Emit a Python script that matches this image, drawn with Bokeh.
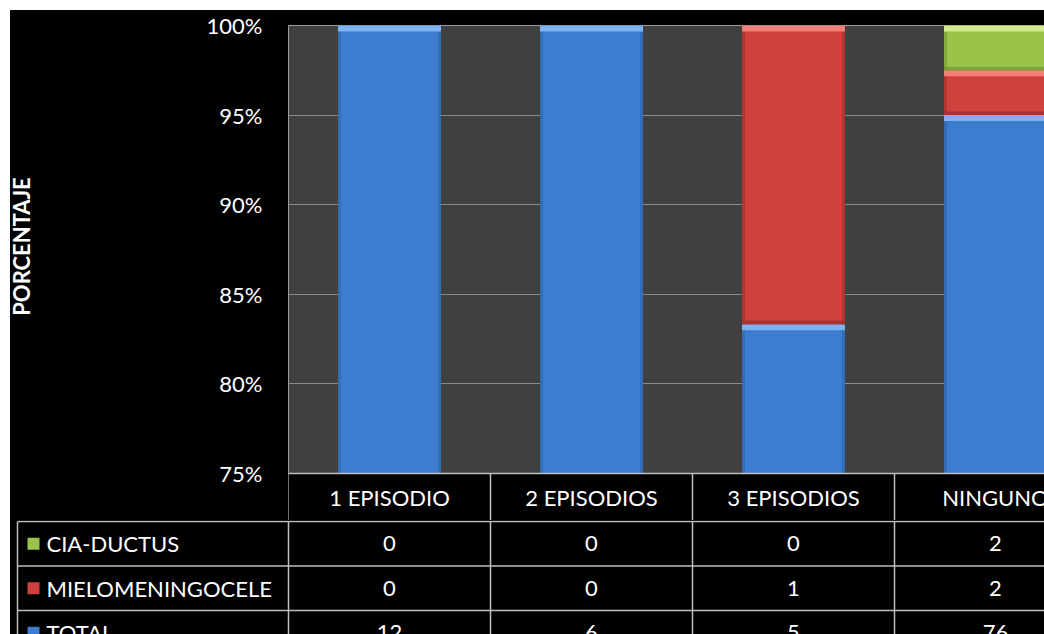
import math
from bokeh.plotting import figure
from bokeh.models import (Range1d, FixedTicker, PrintfTickFormatter, ColumnDataSource,
                          BoxAnnotation, Spacer)
from bokeh.layouts import column, row
from bokeh.core.properties import value
from bokeh.embed import file_html
from bokeh.resources import INLINE

# ---------------- data ----------------
categories = ["1 EPISODIO", "2 EPISODIOS", "3 EPISODIOS", "NINGUNO"]
series_names = ["CIA-DUCTUS", "MIELOMENINGOCELE", "TOTAL"]
cia_ductus = [0, 0, 0, 2]
mielomeningocele = [0, 0, 1, 2]
total = [12, 6, 5, 76]
y_ticks = [75, 80, 85, 90, 95, 100]
grid_ticks = [80, 85, 90, 95]
y_title = "PORCENTAJE"

# ---------------- layout / style constants ----------------
FONT = "Lato"
PAGE_W = 1044
PAD_LEFT = 10
LEFT_W = 190          # page x where the main chart figure starts
TOP_PAD = 10
FIG1_H = 510
FRAME_TOP = 15
FRAME_LEFT = 288      # page x of the plot area
COL_PX = 202.0
PX_PER_UNIT = 448.0 / 25.0
HEADER_PX = 47.0
FIG2_H = 114
ROW_PX = 44.5
BAR_W = 0.51
LINE_COL = "#bfbfbf"
PAGE_FRAME_TOP = TOP_PAD + FRAME_TOP
BLACK = {"background-color": "black"}

colors = {
    "TOTAL": ("#3d7dd0", "#7ab2f2", "#2d62a8"),
    "MIELOMENINGOCELE": ("#d0403c", "#f27e78", "#a32e2b"),
    "CIA-DUCTUS": ("#9ac34a", "#d0ec86", "#789a35"),
}

x_end = (PAGE_W - FRAME_LEFT) / COL_PX
y_start = y_ticks[0] - HEADER_PX / PX_PER_UNIT
shared_y = Range1d(y_start, y_ticks[-1])

# ---------------- left strip with the vertical title ----------------
p0 = figure(width=LEFT_W - PAD_LEFT, height=FIG1_H,
            x_range=Range1d((PAD_LEFT - FRAME_LEFT) / COL_PX, (LEFT_W - FRAME_LEFT) / COL_PX),
            y_range=shared_y, output_backend="svg", toolbar_location=None,
            x_axis_location=None, y_axis_location=None,
            min_border_left=0, min_border_right=0, min_border_top=FRAME_TOP,
            min_border_bottom=0, background_fill_color="black",
            border_fill_color="black", outline_line_color=None, styles=BLACK)
p0.grid.visible = False
p0.text(x=[(20.5 - FRAME_LEFT) / COL_PX],
        y=[y_ticks[-1] - (246 - PAGE_FRAME_TOP) / PX_PER_UNIT],
        text=[y_title], angle=math.pi / 2, text_color="white",
        text_font=value(FONT), text_font_style="bold", text_font_size="22px",
        text_align="center", text_baseline="middle")

# ---------------- main chart ----------------
p1 = figure(width=PAGE_W - LEFT_W, height=FIG1_H, x_range=Range1d(0, x_end),
            y_range=shared_y,
            output_backend="svg", toolbar_location=None, x_axis_location=None,
            min_border_left=FRAME_LEFT - LEFT_W, min_border_right=0,
            min_border_top=FRAME_TOP, min_border_bottom=0,
            background_fill_color="#404040",
            border_fill_color="black", outline_line_color="#9a9a9a", styles=BLACK)

ax = p1.yaxis[0]
ax.ticker = FixedTicker(ticks=y_ticks)
ax.formatter = PrintfTickFormatter(format="%d%%")
ax.axis_line_color = None
ax.major_tick_line_color = None
ax.minor_tick_line_color = None
ax.major_tick_in = 0
ax.major_tick_out = 0
ax.major_label_standoff = 26
ax.major_label_text_font = FONT
ax.major_label_text_font_size = "22px"
ax.major_label_text_color = "white"

p1.xgrid.visible = False
p1.ygrid.ticker = FixedTicker(ticks=grid_ticks)
p1.ygrid.grid_line_color = "#8a8a8a"
p1.ygrid.grid_line_width = 1

# stacked percentages
col_sum = [a + b + c for a, b, c in zip(total, mielomeningocele, cia_ductus)]
stack_order = [("TOTAL", total), ("MIELOMENINGOCELE", mielomeningocele), ("CIA-DUCTUS", cia_ductus)]
bottoms = [0.0] * len(categories)
hl = 6.0 / PX_PER_UNIT
sw = 3.0 / COL_PX
for name, vals in stack_order:
    pct = [100.0 * v / s for v, s in zip(vals, col_sum)]
    tops = [b + q for b, q in zip(bottoms, pct)]
    idx = [i for i, q in enumerate(pct) if q > 0]
    main, light, dark = colors[name]
    src = ColumnDataSource(dict(
        x=[i + 0.5 for i in idx],
        bottom=[bottoms[i] for i in idx],
        top=[tops[i] for i in idx],
        hl_bottom=[tops[i] - hl for i in idx],
        sh_top=[bottoms[i] + hl * 0.6 for i in idx],
        left_x=[i + 0.5 - BAR_W / 2 + sw / 2 for i in idx],
        right_x=[i + 0.5 + BAR_W / 2 - sw / 2 for i in idx],
    ))
    p1.vbar(x="x", width=BAR_W, bottom="bottom", top="top", source=src,
            fill_color=main, line_color=None)
    p1.vbar(x="left_x", width=sw, bottom="bottom", top="top", source=src,
            fill_color=dark, fill_alpha=0.6, line_color=None)
    p1.vbar(x="right_x", width=sw, bottom="bottom", top="top", source=src,
            fill_color=dark, fill_alpha=0.6, line_color=None)
    p1.vbar(x="x", width=BAR_W, bottom="bottom", top="sh_top", source=src,
            fill_color=dark, fill_alpha=0.8, line_color=None)
    p1.vbar(x="x", width=BAR_W, bottom="hl_bottom", top="top", source=src,
            fill_color=light, line_color=None)
    bottoms = tops

# header row of the table (below 75%)
p1.add_layout(BoxAnnotation(top=y_ticks[0], fill_color="black", fill_alpha=1.0,
                            line_color=None))
hdr_y = y_ticks[0] - HEADER_PX / 2 / PX_PER_UNIT
hdr_src = ColumnDataSource(dict(x=[i + 0.5 for i in range(len(categories))],
                                y=[hdr_y] * len(categories), t=categories))
r = p1.text(x="x", y="y", text="t", source=hdr_src, text_color="white",
            text_font=value(FONT), text_font_size="22px",
            text_align="center", text_baseline="middle")
r.level = "overlay"
seg = p1.segment(x0=[1, 2, 3], x1=[1, 2, 3], y0=[y_start] * 3, y1=[y_ticks[0]] * 3,
                 line_color=LINE_COL, line_width=1.5)
seg.level = "overlay"
seg2 = p1.segment(x0=[0], x1=[x_end], y0=[y_ticks[0]], y1=[y_ticks[0]],
                  line_color=LINE_COL, line_width=1.5)
seg2.level = "overlay"

# ---------------- table figure ----------------
x2_start = (PAD_LEFT - FRAME_LEFT) / COL_PX
y2_end = 1.0 / ROW_PX
p2 = figure(width=PAGE_W - PAD_LEFT, height=FIG2_H, x_range=Range1d(x2_start, x_end),
            y_range=Range1d(y2_end - FIG2_H / ROW_PX, y2_end),
            output_backend="svg", toolbar_location=None,
            x_axis_location=None, y_axis_location=None,
            min_border=0, min_border_left=0, min_border_right=0,
            min_border_top=0, min_border_bottom=0,
            background_fill_color="black", border_fill_color="black",
            outline_line_color=None, styles=BLACK)
p2.grid.visible = False
for pl in (p0, p1, p2):
    if hasattr(pl, "frame_align"):
        pl.frame_align = False

legend_left = (17 - FRAME_LEFT) / COL_PX
key_x = (33 - FRAME_LEFT) / COL_PX
text_x = (46 - FRAME_LEFT) / COL_PX
row_vals = [cia_ductus, mielomeningocele, total]
nrows = len(series_names)

p2.segment(x0=[legend_left] * nrows, x1=[x_end] * nrows,
           y0=[-k for k in range(nrows)], y1=[-k for k in range(nrows)],
           line_color=LINE_COL, line_width=1.5)
vx = [legend_left] + list(range(len(categories)))
p2.segment(x0=vx, x1=vx, y0=[0] * len(vx), y1=[-nrows] * len(vx),
           line_color=LINE_COL, line_width=1.5)

key_src = ColumnDataSource(dict(
    x=[key_x] * nrows, y=[-k - 0.5 for k in range(nrows)],
    c=[colors[n][0] for n in series_names], t=series_names))
p2.scatter(x="x", y="y", marker="square", size=12, fill_color="c",
           line_color=None, source=key_src)
p2.text(x=[text_x] * nrows, y=[-k - 0.5 for k in range(nrows)], text=series_names,
        text_color="white", text_font=value(FONT), text_font_size="22px",
        text_align="left", text_baseline="middle")

vx_list, vy_list, vt_list = [], [], []
for k, vals in enumerate(row_vals):
    for i, v in enumerate(vals):
        vx_list.append(i + 0.5)
        vy_list.append(-k - 0.5)
        vt_list.append(str(v))
p2.text(x=vx_list, y=vy_list, text=vt_list, text_color="white",
        text_font=value(FONT), text_font_size="22px",
        text_align="center", text_baseline="middle")

inner = column(row(p0, p1, spacing=0, styles=BLACK), p2, spacing=0, styles=BLACK)
layout = column(Spacer(width=PAGE_W, height=TOP_PAD),
                row(Spacer(width=PAD_LEFT, height=FIG1_H + FIG2_H), inner, spacing=0),
                spacing=0)
open("out.html", "w").write(file_html(layout, INLINE))
